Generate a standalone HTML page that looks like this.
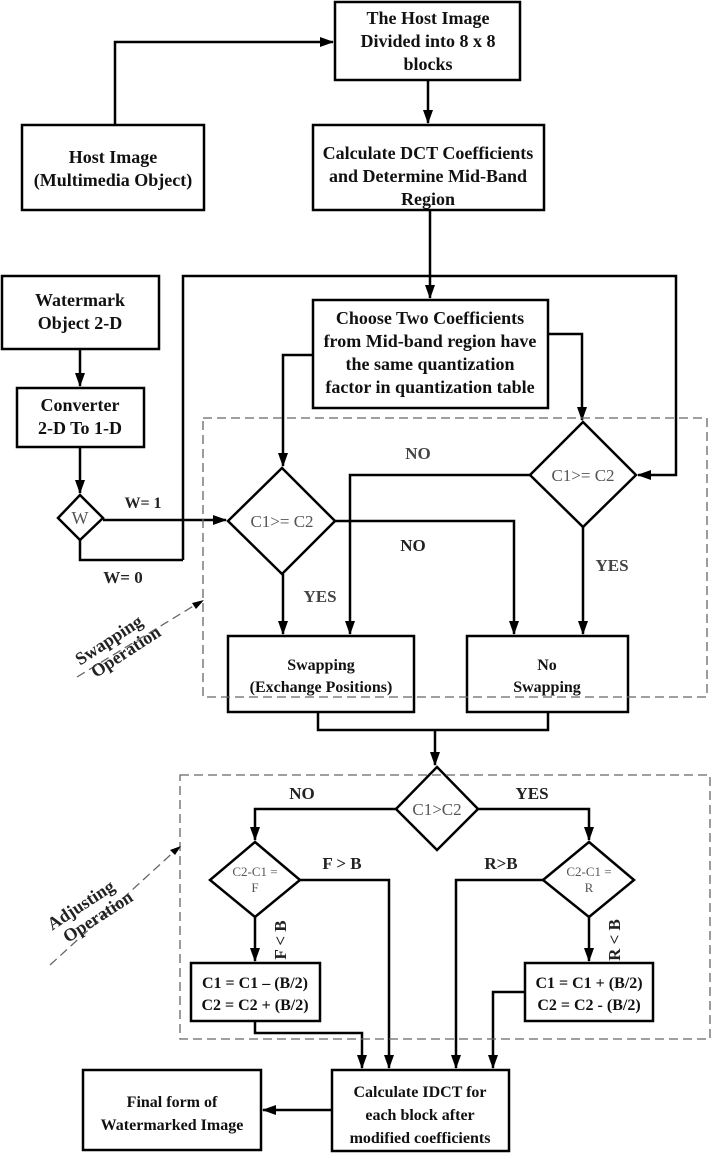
<!DOCTYPE html>
<html><head><meta charset="utf-8"><style>
html,body{margin:0;padding:0;background:#fff;}
svg{display:block;}
text{font-family:"Liberation Serif",serif;}
.b{font-weight:bold;font-size:18px;fill:#111;text-anchor:middle;}
.m{font-size:16px;}
.d{font-size:17px;fill:#555;text-anchor:middle;}
.s{font-size:13px;fill:#555;text-anchor:middle;}
.l{font-weight:bold;font-size:17px;fill:#222;text-anchor:middle;}
</style></head><body>
<svg width="714" height="1153" viewBox="0 0 714 1153" xmlns="http://www.w3.org/2000/svg">
<defs><marker id="a2" markerWidth="14" markerHeight="10" refX="13" refY="5" orient="auto" markerUnits="userSpaceOnUse"><path d="M0,0 L14,5 L0,10 z" fill="#000"/></marker></defs>
<g fill="none" stroke="#000" stroke-width="2.5">
<rect x="335" y="2" width="185" height="78"/>
<rect x="313" y="125" width="231" height="85"/>
<rect x="22" y="125" width="182" height="85"/>
<rect x="2" y="276" width="157" height="73"/>
<rect x="17" y="388" width="127" height="59"/>
<rect x="313" y="300" width="235" height="108"/>
<rect x="228" y="636" width="186" height="76"/>
<rect x="467" y="636" width="161" height="76"/>
<rect x="191" y="963" width="129" height="58"/>
<rect x="525" y="963" width="128" height="58"/>
<rect x="332" y="1070" width="177" height="81"/>
<rect x="83" y="1070" width="178" height="80"/>
<path d="M80,495 L103,518 L80,540 L58,518 Z"/>
<path d="M282,468 L335,521 L282,574 L228,521 Z"/>
<path d="M583,422 L636,475 L583,527 L530,475 Z"/>
<path d="M437,767 L478,809 L437,850 L396,809 Z"/>
<path d="M255,842 L300,880 L255,917 L210,880 Z"/>
<path d="M589,842 L634,880 L589,917 L543,880 Z"/>
</g>
<g fill="none" stroke="#000" stroke-width="2.5">
<path d="M428,80 V123" marker-end="url(#a2)"/>
<path d="M115,125 V42 H333" marker-end="url(#a2)"/>
<path d="M430,210 V298" marker-end="url(#a2)"/>
<path d="M183,560 V276 H676 V475 H638" marker-end="url(#a2)"/>
<path d="M80,540 V560 H183"/>
<path d="M80,349 V386" marker-end="url(#a2)"/>
<path d="M80,447 V493" marker-end="url(#a2)"/>
<path d="M103,520 H226" marker-end="url(#a2)"/>
<path d="M313,355 H283 V466" marker-end="url(#a2)"/>
<path d="M548,334 H582 V420" marker-end="url(#a2)"/>
<path d="M530,475 H350 V634" marker-end="url(#a2)"/>
<path d="M335,521 H514 V634" marker-end="url(#a2)"/>
<path d="M283,574 V634" marker-end="url(#a2)"/>
<path d="M583,527 V634" marker-end="url(#a2)"/>
<path d="M318,712 V730 H548 V712"/>
<path d="M435,730 V765" marker-end="url(#a2)"/>
<path d="M396,809 H255 V840" marker-end="url(#a2)"/>
<path d="M478,809 H589 V840" marker-end="url(#a2)"/>
<path d="M300,880 H389 V1068" marker-end="url(#a2)"/>
<path d="M543,880 H456 V1068" marker-end="url(#a2)"/>
<path d="M255,917 V961" marker-end="url(#a2)"/>
<path d="M589,917 V961" marker-end="url(#a2)"/>
<path d="M255,1021 V1033 H362 V1068" marker-end="url(#a2)"/>
<path d="M525,992 H493 V1068" marker-end="url(#a2)"/>
<path d="M332,1110 H263" marker-end="url(#a2)"/>
</g>
<g fill="none" stroke="#666" stroke-width="1.3" stroke-dasharray="9,5">
<rect x="203" y="418" width="504" height="279"/>
<rect x="180" y="775" width="530" height="264"/>
<path d="M77,677 L200,602"/>
<path d="M50,965 L178,848"/>
</g>
<path d="M204,600 L192,603 L196,609 Z" fill="#000"/>
<path d="M181,846 L170,850 L175,855 Z" fill="#000"/>
<text class="b" x="428" y="24">The Host Image</text>
<text class="b" x="428" y="47">Divided into 8 x 8</text>
<text class="b" x="428" y="70">blocks</text>
<text class="b" x="428" y="159">Calculate DCT Coefficients</text>
<text class="b" x="428" y="182">and Determine Mid-Band</text>
<text class="b" x="428" y="205">Region</text>
<text class="b" x="113" y="163">Host Image</text>
<text class="b" x="113" y="186">(Multimedia Object)</text>
<text class="b" x="80" y="306">Watermark</text>
<text class="b" x="80" y="329">Object 2-D</text>
<text class="b" x="80" y="411">Converter</text>
<text class="b" x="80" y="434">2-D To 1-D</text>
<text class="b" x="430" y="324">Choose Two Coefficients</text>
<text class="b" x="430" y="347">from Mid-band region have</text>
<text class="b" x="430" y="370">the same quantization</text>
<text class="b" x="430" y="393">factor in quantization table</text>
<text class="b m" x="321" y="670">Swapping</text>
<text class="b m" x="321" y="692">(Exchange Positions)</text>
<text class="b m" x="547" y="670">No</text>
<text class="b m" x="547" y="692">Swapping</text>
<text class="b m" x="255" y="988">C1 = C1 – (B/2)</text>
<text class="b m" x="255" y="1010">C2 = C2 + (B/2)</text>
<text class="b m" x="589" y="988">C1 = C1 + (B/2)</text>
<text class="b m" x="589" y="1010">C2 = C2 - (B/2)</text>
<text class="b m" x="420" y="1097">Calculate IDCT for</text>
<text class="b m" x="420" y="1120">each block after</text>
<text class="b m" x="420" y="1143">modified coefficients</text>
<text class="b m" x="172" y="1107">Final form of</text>
<text class="b m" x="172" y="1130">Watermarked Image</text>
<text class="d" x="80" y="524" style="font-size:18px">W</text>
<text class="d" x="282" y="527">C1&gt;= C2</text>
<text class="d" x="583" y="481">C1&gt;= C2</text>
<text class="d" x="437" y="815">C1&gt;C2</text>
<text class="s" x="255" y="876">C2-C1 =</text>
<text class="s" x="255" y="892">F</text>
<text class="s" x="589" y="876">C2-C1 =</text>
<text class="s" x="589" y="892">R</text>
<text class="l" x="143" y="508" style="font-size:16px">W= 1</text>
<text class="l" x="123" y="583">W= 0</text>
<text class="l" x="418" y="459" style="fill:#444">NO</text>
<text class="l" x="413" y="551">NO</text>
<text class="l" x="320" y="602" style="fill:#444">YES</text>
<text class="l" x="612" y="571" style="fill:#444">YES</text>
<text class="l" x="302" y="799">NO</text>
<text class="l" x="532" y="799">YES</text>
<text class="l" x="342" y="869">F &gt; B</text>
<text class="l" x="501" y="869">R&gt;B</text>
<text class="l" transform="translate(286,940) rotate(-90)">F &lt; B</text>
<text class="l" transform="translate(620,940) rotate(-90)">R &lt; B</text>
<g transform="translate(112,645) rotate(-33)"><text class="l" x="0" y="0" style="font-size:18px">Swapping</text><text class="l" x="8" y="19" style="font-size:18px">Operation</text></g>
<g transform="translate(84,910) rotate(-33)"><text class="l" x="0" y="0" style="font-size:18px">Adjusting</text><text class="l" x="8" y="19" style="font-size:18px">Operation</text></g>
</svg>
</body></html>
